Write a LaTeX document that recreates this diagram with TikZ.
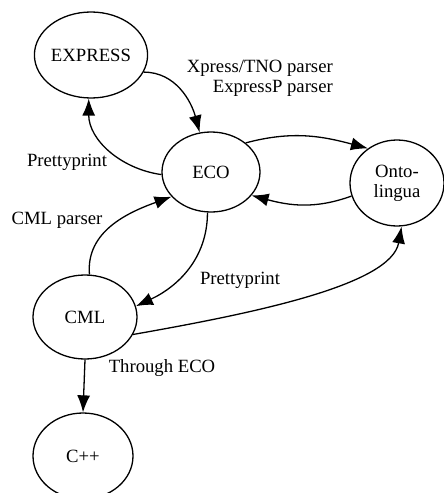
\documentclass[tikz,border=0pt]{standalone}
\usepackage{fontspec}
\setmainfont{Liberation Serif}
\usepackage{tikz}
\usetikzlibrary{arrows, arrows.meta, shapes, shapes.geometric, positioning, calc}

\begin{document}
\begin{tikzpicture}[x=1pt, y=1pt,
    lang/.style={ellipse, draw, line width=1.3pt, inner sep=0pt, align=center,
        font=\fontsize{18.7}{20}\selectfont},
    conv/.style={line width=1.3pt, -{Latex[length=17pt,width=13pt]}},
    lbl/.style={inner sep=0pt, align=right, font=\fontsize{18.7}{20}\selectfont}]
    \useasboundingbox (0,0) rectangle (444,-493);

        \foreach \name/\x/\y/\w/\h/\txt in {express/91/-55/102/86/EXPRESS,
            eco/211/-172/98/80/ECO, onto/397/-183/94/86/Onto-\\lingua,
            cml/85/-317/104/84/CML, cpp/83/-456/100/86/C++}{
            \node[lang, minimum width=\w, minimum height=\h] (\name) at (\x,\y) {\txt};
        }

        \draw[conv] (express.-18) to[out=0, in=105] (eco.106);
        \draw[conv] (eco.183) to[out=172, in=-90] (express.-93);
        \draw[conv] (eco.40) to[out=15, in=165] (onto.130);
        \draw[conv] (onto.196) to[out=200, in=-15] (eco.-30);
        \draw[conv] (cml.84) to[out=95, in=200] (eco.-148);
        \draw[conv] (eco.-95) to[out=-90, in=25] (cml.12);
        \draw[conv] (cml.-20) to[out=10, in=-100, out distance=120, in distance=60] (onto.-84);
        \draw[conv] (cml.south) -- (cpp.north);

        \node[lbl, anchor=east] (xpresslbl) at (333,-78) {Xpress/TNO parser\\ExpressP parser};
        \node[lbl] (prettylbl) at (67,-162) {Prettyprint};
        \node[lbl] (cmlparselbl) at (57,-220) {CML parser};
        \node[lbl] (prettycmllbl) at (240,-280) {Prettyprint};
        \node[lbl] (throughlbl) at (162,-368) {Through ECO};
    \end{tikzpicture}
\end{document}
